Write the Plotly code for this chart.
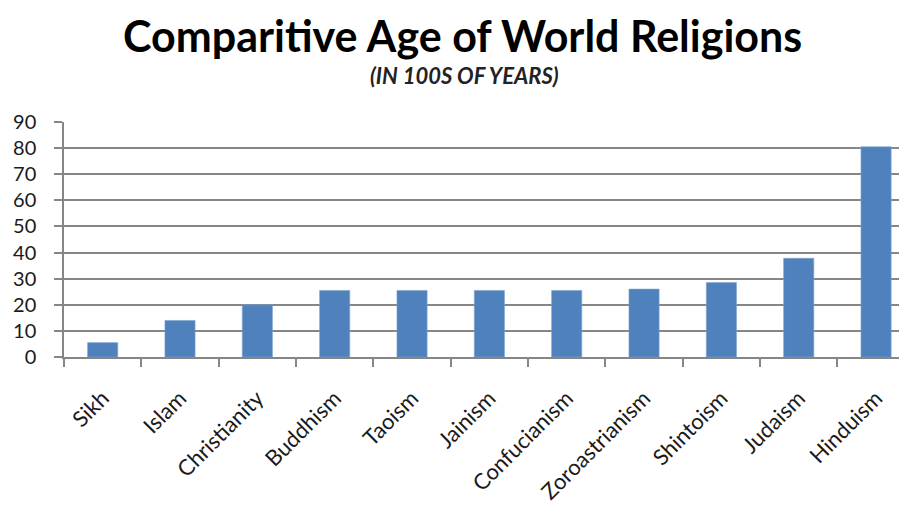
import plotly.graph_objects as go

religions = ["Sikh", "Islam", "Christianity", "Buddhism", "Taoism", "Jainism",
             "Confucianism", "Zoroastrianism", "Shintoism", "Judaism", "Hinduism"]
age_hundreds = [5.5, 14, 20, 25.5, 25.5, 25.5, 25.5, 26, 28.5, 37.8, 80.5]
y_ticks = [0, 10, 20, 30, 40, 50, 60, 70, 80, 90]

FONT = "Lato"
AX = "#868686"

# page body has an 8px margin; plot area sits at screen x 64..907, y 122..357
W, H = 899, 510
L, T, B, R = 56, 114, 161, 0
PW = W - L - R
PH = H - T - B


def px(xs):
    return (xs - 8 - L) / PW


def py(ys):
    return (8 + T + PH - ys) / PH


fig = go.Figure(go.Bar(
    x=religions, y=age_hundreds,
    marker=dict(color="#4f81bd", line=dict(color="#7ea3d0", width=0.6)),
))

fig.update_layout(
    width=W, height=H,
    margin=dict(l=L, r=R, t=T, b=B),
    paper_bgcolor="white", plot_bgcolor="white",
    bargap=0.61,
    showlegend=False,
    font=dict(family=FONT, color="#1a1a1a"),
)
fig.add_annotation(text="<b>Comparitive Age of World Religions</b>",
                   xref="paper", yref="paper", x=px(462), y=py(9),
                   yanchor="top", xanchor="center", showarrow=False,
                   borderpad=0,
                   font=dict(family=FONT, size=43, color="#000000"))
fig.add_annotation(text="<b><i>(IN 100S OF YEARS)</i></b>",
                   xref="paper", yref="paper", x=px(464), y=py(75),
                   yanchor="middle", xanchor="center", showarrow=False,
                   font=dict(family=FONT, size=22, color="#222222"))

fig.update_xaxes(
    range=[-0.5, 10.4],
    showline=True, linecolor=AX, linewidth=1.5,
    ticks="outside", tickson="boundaries", ticklen=8, tickcolor=AX, tickwidth=1.5,
    tickangle=-45, tickfont=dict(family=FONT, size=22, color="#1a1a1a"),
    ticklabelstandoff=18,
    showgrid=False,
)
fig.update_yaxes(
    range=[0, 90], tickvals=y_ticks,
    showline=True, linecolor=AX, linewidth=1.5,
    ticks="outside", ticklen=8, tickcolor=AX, tickwidth=1.5,
    tickfont=dict(family=FONT, size=20, color="#1a1a1a"),
    ticklabelstandoff=14,
    showgrid=True, gridcolor=AX, gridwidth=1.5,
    zeroline=False,
)

fig.write_html("out.html")
